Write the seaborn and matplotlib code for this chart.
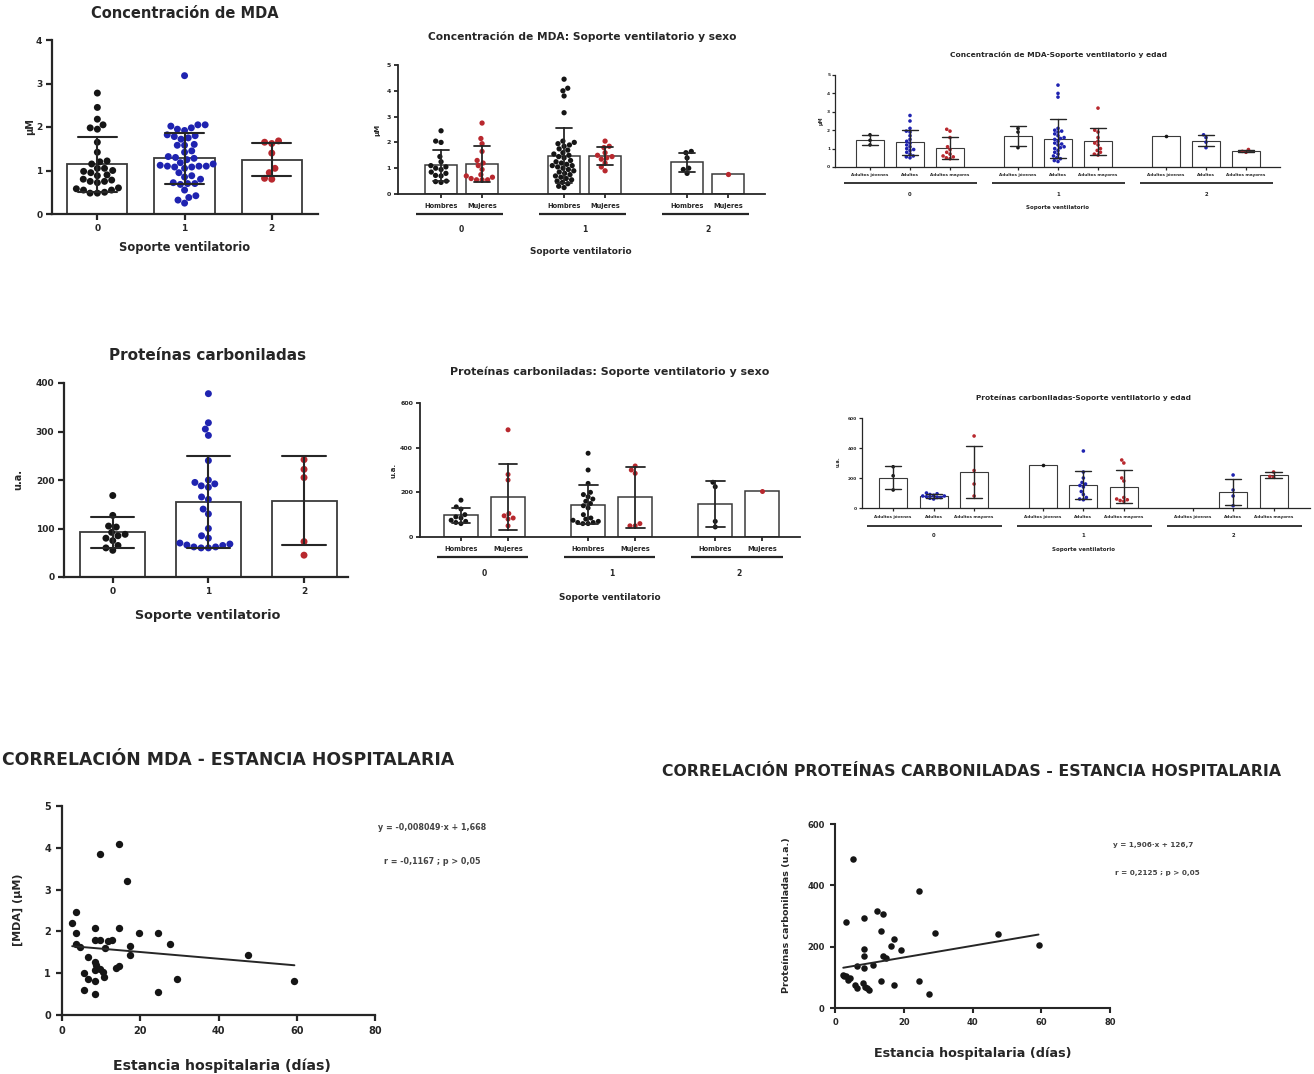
import warnings
warnings.filterwarnings("ignore")
import numpy as np
import pandas as pd
import matplotlib
matplotlib.use("Agg")
import matplotlib.pyplot as plt
import matplotlib.transforms as mtransforms
import seaborn as sns

sns.set_theme(style="ticks")
plt.rcParams['font.family'] = ['DejaVu Sans']
plt.rcParams['font.weight'] = 'bold'

# ------------------------------------------------------------------ data
vent_groups = ["0", "1", "2"]
sex_groups = ["Hombres", "Mujeres"]
age_groups = ["Adultos jóvenes", "Adultos", "Adultos mayores"]

# MDA by ventilatory support (µM)
mda_v0 = [2.78, 2.45, 2.18, 2.05, 1.98, 1.95, 1.65, 1.42, 1.22, 1.2, 1.15, 1.05, 1.05, 1.0, 0.98,
          0.95, 0.9, 0.88, 0.8, 0.78, 0.75, 0.75, 0.72, 0.6, 0.58, 0.55, 0.55, 0.5, 0.48, 0.48]
mda_v1 = [3.18, 2.05, 2.05, 2.02, 1.98, 1.95, 1.92, 1.82, 1.8, 1.78, 1.75, 1.72, 1.6, 1.58, 1.58,
          1.45, 1.42, 1.32, 1.3, 1.28, 1.25, 1.18, 1.15, 1.12, 1.1, 1.1, 1.1, 1.08, 1.08, 1.05,
          0.95, 0.88, 0.85, 0.8, 0.72, 0.7, 0.7, 0.68, 0.55, 0.42, 0.38, 0.32, 0.25]
mda_v2 = [1.68, 1.65, 1.62, 1.4, 1.05, 0.95, 0.82, 0.8]

# MDA by ventilatory support and sex
mda_s0_h = [2.45, 2.05, 2.0, 1.45, 1.25, 1.1, 1.05, 1.0, 0.95, 0.85, 0.8, 0.72, 0.7, 0.5, 0.48, 0.45]
mda_s0_m = [2.75, 2.15, 1.95, 1.65, 1.3, 1.2, 1.1, 0.95, 0.75, 0.7, 0.65, 0.6, 0.55, 0.55, 0.55]
mda_s1_h = [4.45, 4.1, 4.0, 3.8, 3.15, 2.05, 2.0, 1.95, 1.9, 1.85, 1.75, 1.7, 1.6, 1.55, 1.5, 1.45,
            1.4, 1.3, 1.25, 1.2, 1.15, 1.1, 1.1, 1.05, 1.0, 0.95, 0.9, 0.85, 0.8, 0.75, 0.7, 0.65,
            0.6, 0.55, 0.5, 0.45, 0.4, 0.3, 0.25]
mda_s1_m = [2.05, 1.85, 1.8, 1.6, 1.5, 1.45, 1.4, 1.35, 1.2, 1.05, 0.9]
mda_s2_h = [1.65, 1.6, 1.4, 1.0, 0.95, 0.8]
mda_s2_m = [0.78]

# MDA by ventilatory support and age
mda_a0_j = [1.75, 1.45, 1.2]
mda_a0_a = [2.8, 2.5, 2.1, 1.95, 1.9, 1.7, 1.5, 1.4, 1.3, 1.2, 1.1, 1.0, 0.95, 0.9, 0.8, 0.7, 0.6, 0.55, 0.5]
mda_a0_m = [2.05, 1.95, 1.6, 1.1, 0.95, 0.8, 0.7, 0.6, 0.55, 0.5, 0.45]
mda_a1_j = [2.1, 1.9, 1.05]
mda_a1_a = [4.45, 4.0, 3.8, 2.1, 2.0, 1.95, 1.9, 1.8, 1.7, 1.6, 1.55, 1.5, 1.4, 1.3, 1.25, 1.2, 1.1,
            1.05, 1.0, 0.9, 0.8, 0.7, 0.6, 0.5, 0.45, 0.35, 0.3]
mda_a1_m = [3.2, 2.0, 1.9, 1.6, 1.4, 1.3, 1.2, 1.0, 0.9, 0.8, 0.7, 0.65]
mda_a2_j = [1.68]
mda_a2_a = [1.75, 1.6, 1.35, 1.05]
mda_a2_m = [0.95, 0.85, 0.8]

# Carbonylated proteins by ventilatory support (u.a.)
pc_v0 = [168, 127, 105, 103, 92, 88, 85, 80, 75, 65, 60, 55]
pc_v1 = [378, 318, 305, 292, 240, 200, 195, 192, 188, 185, 165, 160, 140, 130, 100, 85, 80, 70, 68,
         66, 65, 62, 62, 60, 60]
pc_v2 = [242, 222, 205, 73, 45]

# Carbonylated proteins by ventilatory support and sex
pc_s0_h = [165, 135, 125, 100, 90, 85, 75, 70, 65, 60]
pc_s0_m = [480, 280, 255, 105, 95, 85, 80, 50]
pc_s1_h = [375, 300, 240, 200, 190, 180, 170, 160, 150, 140, 130, 100, 85, 80, 75, 70, 65, 65, 60, 60]
pc_s1_m = [318, 300, 285, 60, 50, 50]
pc_s2_h = [245, 225, 70, 45]
pc_s2_m = [205]

# Carbonylated proteins by ventilatory support and age
pc_a0_j = [275, 215, 120]
pc_a0_a = [100, 95, 90, 85, 80, 80, 75, 70, 70, 65, 60]
pc_a0_m = [480, 250, 160, 80]
pc_a1_j = [290]
pc_a1_a = [380, 240, 200, 170, 160, 150, 140, 110, 90, 70, 60, 55]
pc_a1_m = [320, 300, 200, 180, 70, 60, 55, 50, 45]
pc_a2_j = []
pc_a2_a = [220, 120, 80, 15]
pc_a2_m = [240, 210, 205]

# Correlation MDA - hospital stay
mda_days = [2.6, 3.7, 3.7, 3.7, 4.7, 5.6, 5.7, 6.6, 6.6, 8.5, 8.5, 8.5, 8.5, 8.5, 8.5, 8.7, 9.7, 9.7,
            9.7, 10.5, 10.7, 10.9, 11.7, 12.8, 13.7, 14.5, 14.5, 14.5, 16.5, 17.5, 17.5, 19.7, 24.5,
            24.5, 27.6, 29.5, 47.5, 59.4]
mda_corr = [2.2, 2.47, 1.97, 1.7, 1.62, 1.0, 0.61, 1.39, 0.85, 2.09, 1.8, 1.27, 1.07, 0.82, 0.5, 1.2,
            3.84, 1.8, 1.11, 1.03, 0.92, 1.6, 1.78, 1.8, 1.13, 4.08, 2.09, 1.17, 3.2, 1.65, 1.43,
            1.97, 1.97, 0.56, 1.7, 0.85, 1.43, 0.82]
mda_slope, mda_intercept = -0.008049, 1.668
mda_eq = "y = -0,008049·x + 1,668"
mda_r = "r = -0,1167 ; p > 0,05"

# Correlation carbonylated proteins - hospital stay
pc_days = [5.3, 3.3, 8.5, 12.1, 14.1, 13.3, 24.4, 17.2, 16.2, 19.3, 8.5, 8.5, 14.1, 14.7, 11.1, 8.5,
           6.3, 29.2, 47.4, 59.2, 2.4, 3.3, 3.9, 5.7, 6.3, 8.1, 8.7, 9.3, 9.9, 13.3, 17.2, 24.4,
           27.2, 2.7, 4.5]
pc_corr = [485, 280, 293, 317, 306, 250, 380, 226, 201, 188, 192, 168, 168, 163, 141, 130, 136, 244,
           242, 206, 108, 103, 92, 76, 65, 81, 70, 65, 58, 87, 76, 87, 47, 103, 98]
pc_slope, pc_intercept = 1.906, 126.7
pc_eq = "y = 1,906·x + 126,7"
pc_r = "r = 0,2125 ; p > 0,05"

BLACK, BLUE, RED = "#151515", "#1f23b0", "#b8282e"
DARK = "#262626"

# ------------------------------------------------------------------ helpers
W, H = 1314, 1074
fig = plt.figure(figsize=(W / 100, H / 100), dpi=100)


def add_ax(l, t, r, b):
    ax = fig.add_axes([l / W, 1 - b / H, (r - l) / W, (b - t) / H])
    ax.geom = (l, t, r, b)
    return ax


def ftext(x, y, s, size, **kw):
    kw.setdefault('ha', 'center')
    kw.setdefault('va', 'center')
    fig.text(x / W, 1 - y / H, s, fontsize=size, fontweight='bold', color=kw.pop('color', DARK), **kw)


def yfrac(ax, ypx):
    l, t, r, b = ax.geom
    return (b - ypx) / (b - t)


def style(ax, lw, tlen, lsize, pad=2):
    sns.despine(ax=ax)
    for s in ('left', 'bottom'):
        ax.spines[s].set_linewidth(lw)
        ax.spines[s].set_color(DARK)
    ax.tick_params(width=lw, length=tlen, labelsize=lsize, colors=DARK, pad=pad)
    for lab in ax.get_xticklabels() + ax.get_yticklabels():
        lab.set_fontweight('bold')
    ax.set_xlabel("")
    ax.set_ylabel("")


def bars_and_points(ax, df, palette, width, ptsize, capsize, edge_lw, err_lw):
    sns.barplot(data=df, x='pos', y='v', native_scale=True, width=width, color='white',
                edgecolor='#3a3a3a', linewidth=edge_lw, errorbar='sd', capsize=capsize,
                err_kws={'color': DARK, 'linewidth': err_lw}, ax=ax)
    sns.swarmplot(data=df, x='pos', y='v', hue='lab', palette=palette, native_scale=True,
                  size=ptsize, linewidth=0, legend=False, ax=ax)
    for ln in ax.lines:
        ln.set_zorder(4)


def simple_df(groups, values):
    rows = []
    for gi, (g, vals) in enumerate(zip(groups, values)):
        for v in vals:
            rows.append((gi, g, v))
    return pd.DataFrame(rows, columns=['pos', 'lab', 'v'])


def grouped_df(groups, subs, values, gap):
    rows, positions = [], []
    for gi, g in enumerate(groups):
        for si, s in enumerate(subs):
            pos = gi * (len(subs) + gap) + si
            positions.append((pos, s, gi))
            for v in values[gi][si]:
                rows.append((pos, s, v))
    return pd.DataFrame(rows, columns=['pos', 'lab', 'v']), positions


def two_level(ax, positions, groups, lab_y, line_y, grp_y, ext_l, ext_r, sub_fs, grp_fs, line_lw):
    tr = mtransforms.blended_transform_factory(ax.transData, ax.transAxes)
    ax.set_xticks([p for p, _, _ in positions])
    ax.set_xticklabels([])
    for p, s, gi in positions:
        ax.text(p, yfrac(ax, lab_y), s, transform=tr, ha='center', va='center',
                fontsize=sub_fs, fontweight='bold', color=DARK, clip_on=False)
    for gi, g in enumerate(groups):
        ps = [p for p, _, k in positions if k == gi]
        ax.plot([min(ps) - ext_l, max(ps) + ext_r], [yfrac(ax, line_y)] * 2, transform=tr,
                color=DARK, lw=line_lw, clip_on=False, solid_capstyle='butt')
        ax.text((min(ps) + max(ps)) / 2, yfrac(ax, grp_y), g, transform=tr, ha='center',
                va='center', fontsize=grp_fs, fontweight='bold', color=DARK, clip_on=False)


# ------------------------------------------------------------------ panel 1
ax1 = add_ax(52, 40, 318, 214)
df1 = simple_df(vent_groups, [mda_v0, mda_v1, mda_v2])
bars_and_points(ax1, df1, dict(zip(vent_groups, [BLACK, BLUE, RED])), 0.69, 5.0, 0.45, 1.3, 1.5)
ax1.set_xlim(-0.52, 2.53)
ax1.set_ylim(0, 4)
ax1.set_yticks(range(0, 5))
ax1.set_xticks(range(3))
ax1.set_xticklabels(vent_groups)
style(ax1, 1.6, 4, 6.5, pad=3)
ftext(185, 14, "Concentración de MDA", 10.5)
ftext(185, 248, "Soporte ventilatorio", 8.3)
ftext(30, 127, "µM", 7, rotation=90)

# ------------------------------------------------------------------ panel 2
ax2 = add_ax(398, 65, 765, 194)
df2, pos2 = grouped_df(vent_groups, sex_groups,
                       [[mda_s0_h, mda_s0_m], [mda_s1_h, mda_s1_m], [mda_s2_h, mda_s2_m]], 1.0)
bars_and_points(ax2, df2, dict(zip(sex_groups, [BLACK, RED])), 0.78, 3.8, 0.4, 1.1, 1.3)
ax2.set_xlim(-1.05, 7.9)
ax2.set_ylim(0, 5)
ax2.set_yticks(range(0, 6))
style(ax2, 1.3, 3, 4.5, pad=2)
two_level(ax2, pos2, vent_groups, 206, 214, 230, 0.6, 0.5, 4.8, 5.5, 1.6)
ftext(582, 37, "Concentración de MDA: Soporte ventilatorio y sexo", 7.7)
ftext(581, 252, "Soporte ventilatorio", 6.4)
ftext(377, 130, "µM", 5, rotation=90)

# ------------------------------------------------------------------ panel 3
ax3 = add_ax(835, 75, 1280, 167)
df3, pos3 = grouped_df(vent_groups, age_groups,
                       [[mda_a0_j, mda_a0_a, mda_a0_m], [mda_a1_j, mda_a1_a, mda_a1_m],
                        [mda_a2_j, mda_a2_a, mda_a2_m]], 0.7)
bars_and_points(ax3, df3, dict(zip(age_groups, [BLACK, BLUE, RED])), 0.68, 2.6, 0.4, 0.8, 1.0)
ax3.set_xlim(-0.875, 10.25)
ax3.set_ylim(0, 5)
ax3.set_yticks(range(0, 6))
style(ax3, 0.9, 2, 3.2, pad=1.5)
two_level(ax3, pos3, vent_groups, 175, 183, 194, 0.65, 0.68, 3.0, 3.8, 1.3)
ftext(1058, 55, "Concentración de MDA-Soporte ventilatorio y edad", 5.4)
ftext(1058, 208, "Soporte ventilatorio", 4.0)
ftext(821, 121, "µM", 3.5, rotation=90)

# ------------------------------------------------------------------ panel 4
ax4 = add_ax(64, 383, 348, 577)
df4 = simple_df(vent_groups, [pc_v0, pc_v1, pc_v2])
bars_and_points(ax4, df4, dict(zip(vent_groups, [BLACK, BLUE, RED])), 0.68, 5.0, 0.45, 1.3, 1.5)
ax4.set_xlim(-0.51, 2.46)
ax4.set_ylim(0, 400)
ax4.set_yticks(range(0, 401, 100))
ax4.set_xticks(range(3))
ax4.set_xticklabels(vent_groups)
style(ax4, 1.6, 4, 6.5, pad=3)
ftext(208, 356, "Proteínas carboniladas", 11)
ftext(208, 616, "Soporte ventilatorio", 9.2)
ftext(18, 480, "u.a.", 7, rotation=90)

# ------------------------------------------------------------------ panel 5
ax5 = add_ax(420, 403, 800, 537)
df5, pos5 = grouped_df(vent_groups, sex_groups,
                       [[pc_s0_h, pc_s0_m], [pc_s1_h, pc_s1_m], [pc_s2_h, pc_s2_m]], 0.7)
bars_and_points(ax5, df5, dict(zip(sex_groups, [BLACK, RED])), 0.72, 3.6, 0.4, 1.1, 1.3)
ax5.set_xlim(-0.87, 7.2)
ax5.set_ylim(0, 600)
ax5.set_yticks(range(0, 601, 200))
style(ax5, 1.3, 3, 4.5, pad=2)
two_level(ax5, pos5, vent_groups, 549, 557, 574, 0.51, 0.43, 4.8, 5.5, 1.6)
ftext(610, 372, "Proteínas carboniladas: Soporte ventilatorio y sexo", 7.9)
ftext(610, 598, "Soporte ventilatorio", 6.4)
ftext(393, 470, "u.a.", 5, rotation=90)

# ------------------------------------------------------------------ panel 6
ax6 = add_ax(862, 418, 1310, 508)
df6, pos6 = grouped_df(vent_groups, age_groups,
                       [[pc_a0_j, pc_a0_a, pc_a0_m], [pc_a1_j, pc_a1_a, pc_a1_m],
                        [pc_a2_j, pc_a2_a, pc_a2_m]], 0.7)
bars_and_points(ax6, df6, dict(zip(age_groups, [BLACK, BLUE, RED])), 0.69, 2.6, 0.4, 0.8, 1.0)
ax6.set_xlim(-0.77, 10.3)
ax6.set_ylim(0, 600)
ax6.set_yticks(range(0, 601, 200))
style(ax6, 0.9, 2, 3.2, pad=1.5)
two_level(ax6, pos6, vent_groups, 517, 526, 535, 0.64, 0.69, 3.0, 3.8, 1.3)
ftext(1083, 398, "Proteínas carboniladas-Soporte ventilatorio y edad", 5.3)
ftext(1083, 550, "Soporte ventilatorio", 4.0)
ftext(838, 462, "u.a.", 3.5, rotation=90)

# ------------------------------------------------------------------ panel 7
ax7 = add_ax(62, 806, 375, 1015)
sns.scatterplot(x=mda_days, y=mda_corr, color=BLACK, s=28, linewidth=0, ax=ax7)
xl = np.array([min(mda_days), max(mda_days)])
sns.lineplot(x=xl, y=mda_slope * xl + mda_intercept, color=DARK, lw=1.4, ax=ax7)
ax7.set_xlim(0, 80)
ax7.set_ylim(0, 5)
ax7.set_xticks(range(0, 81, 20))
ax7.set_yticks(range(0, 6))
style(ax7, 1.6, 4, 7, pad=4)
ftext(2, 760, "CORRELACIÓN MDA - ESTANCIA HOSPITALARIA", 12.4, ha='left')
ftext(222, 1066, "Estancia hospitalaria (días)", 10.2)
ftext(18, 910, "[MDA] (µM)", 8, rotation=90)
ftext(432, 828, mda_eq, 5.8, color='#444')
ftext(432, 862, mda_r, 5.8, color='#444')

# ------------------------------------------------------------------ panel 8
ax8 = add_ax(835, 824, 1110, 1008)
sns.scatterplot(x=pc_days, y=pc_corr, color=BLACK, s=22, linewidth=0, ax=ax8)
xl = np.array([min(pc_days), max(pc_days)])
sns.lineplot(x=xl, y=pc_slope * xl + pc_intercept, color=DARK, lw=1.4, ax=ax8)
ax8.set_xlim(0, 80)
ax8.set_ylim(0, 600)
ax8.set_xticks(range(0, 81, 20))
ax8.set_yticks(range(0, 601, 200))
style(ax8, 1.5, 3.5, 6, pad=4)
ftext(972, 771, "CORRELACIÓN PROTEÍNAS CARBONILADAS - ESTANCIA HOSPITALARIA", 11.3)
ftext(973, 1053, "Estancia hospitalaria (días)", 9.2)
ftext(786, 915, "Proteínas carboniladas (u.a.)", 6.8, rotation=90)
ftext(1153, 845, pc_eq, 5.2, color='#444')
ftext(1157, 873, pc_r, 5.2, color='#444')

fig.savefig("out.png", dpi=100)
